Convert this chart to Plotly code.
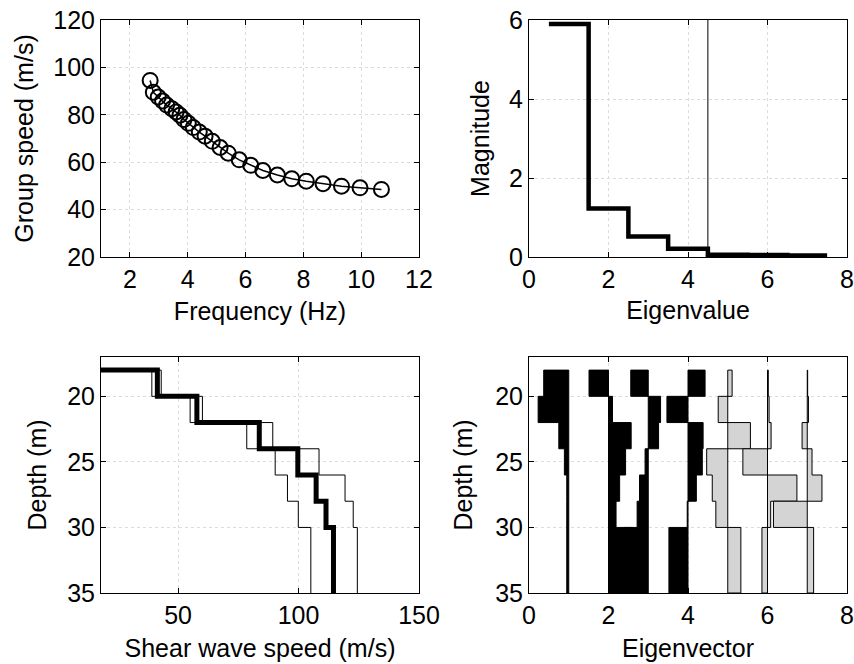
import plotly.graph_objects as go

# ---------------- data ----------------
# Top-left: group speed dispersion curve
freq_hz = [2.70, 2.81, 2.98, 3.13, 3.27, 3.45, 3.60, 3.73, 3.87, 4.02, 4.19, 4.40, 4.60,
           4.85, 5.12, 5.40, 5.78, 6.18, 6.60, 7.10, 7.60, 8.10, 8.68, 9.32, 9.96, 10.70]
group_speed = [94.5, 89.5, 87.5, 85.8, 84.1, 82.6, 81.2, 79.8, 78.0, 76.4, 74.6, 72.7, 71.0,
               68.8, 66.2, 63.8, 61.0, 58.7, 56.5, 54.6, 53.0, 52.0, 50.9, 49.9, 49.2, 48.5]

# Top-right: eigenvalue spectrum
eig_index = [1, 2, 3, 4, 5, 6, 7]
eig_magnitude = [5.9, 1.23, 0.52, 0.21, 0.06, 0.05, 0.04]
eig_cutoff = 4.5

# Bottom: layered model
layer_top = [18, 20, 22, 24, 26, 28, 30]
layer_bottom = [20, 22, 24, 26, 28, 30, 35]
vs_mean = [41.4, 57.8, 83.7, 99.7, 107.3, 111.4, 114.5]
vs_low = [39.1, 55.0, 78.5, 90.3, 95.4, 99.9, 105.1]
vs_high = [43.0, 60.1, 89.3, 108.5, 119.3, 122.7, 124.4]

# Bottom-right: eigenvectors (one value per layer), offset by their index
eigvec_1 = [-0.63, -0.77, -0.25, -0.11, -0.05, -0.05, -0.05]
eigvec_2 = [-0.49, 0.10, 0.57, 0.43, 0.28, 0.19, 0.60]
eigvec_3 = [-0.44, 0.31, 0.26, -0.08, -0.22, -0.28, -0.60]
eigvec_4 = [0.43, -0.53, 0.38, 0.36, 0.21, -0.02, -0.48]
eigvec_5 = [0.11, -0.24, 0.57, -0.53, -0.39, -0.30, 0.33]
eigvec_6 = [0.02, 0.04, 0.09, -0.62, 0.74, 0.08, -0.14]
eigvec_7 = [0.01, 0.03, -0.13, 0.12, 0.37, -0.85, 0.16]
eigvecs = [eigvec_1, eigvec_2, eigvec_3, eigvec_4, eigvec_5, eigvec_6, eigvec_7]
n_black = 4

# ---------------- helpers ----------------
def stair(values, start=0.0):
    xs, ys = [start], [layer_top[0]]
    for v, t, b in zip(values, layer_top, layer_bottom):
        xs += [v, v]
        ys += [t, b]
    return xs, ys


def eig_poly(idx, values):
    xs, ys = [idx], [layer_top[0]]
    for v, t, b in zip(values, layer_top, layer_bottom):
        xs += [idx + v, idx + v]
        ys += [t, b]
    xs += [idx, idx]
    ys += [layer_bottom[-1], layer_top[0]]
    return xs, ys


FONT = "Liberation Sans, Arial, Helvetica, sans-serif"
FS = 25

fig = go.Figure()

# Top-left
fig.add_trace(go.Scatter(
    x=freq_hz, y=group_speed, mode="lines+markers",
    line=dict(color="black", width=1.5),
    marker=dict(symbol="circle-open", size=15, color="black", line=dict(width=2, color="black")),
    xaxis="x", yaxis="y", showlegend=False))

# Top-right
edges = [i - 0.5 for i in eig_index] + [eig_index[-1] + 0.5]
fig.add_trace(go.Scatter(
    x=edges, y=eig_magnitude + [eig_magnitude[-1]], mode="lines", line_shape="hv",
    line=dict(color="black", width=4.5), xaxis="x2", yaxis="y2", showlegend=False))
fig.add_trace(go.Scatter(
    x=[eig_cutoff, eig_cutoff], y=[0, 6], mode="lines",
    line=dict(color="black", width=1), xaxis="x2", yaxis="y2", showlegend=False))

# Bottom-left
for vals, w in [(vs_low, 1), (vs_high, 1), (vs_mean, 5)]:
    xs, ys = stair(vals)
    fig.add_trace(go.Scatter(x=xs, y=ys, mode="lines", line=dict(color="black", width=w),
                             xaxis="x3", yaxis="y3", showlegend=False))

# Bottom-right
for i, vals in enumerate(eigvecs, start=1):
    xs, ys = eig_poly(i, vals)
    fc = "black" if i <= n_black else "#d4d4d4"
    fig.add_trace(go.Scatter(x=xs, y=ys, mode="lines", fill="toself", fillcolor=fc,
                             line=dict(color="black", width=1),
                             xaxis="x4", yaxis="y4", showlegend=False))

W, H = 854, 664
def dx(a, b):
    return [a / W, b / W]
def dy(top, bottom):
    return [(H - bottom) / H, (H - top) / H]

common = dict(showline=True, linecolor="black", linewidth=1, mirror="ticks",
              ticks="inside", ticklen=5, tickcolor="black", automargin=False,
              showgrid=True, gridcolor="#dcdcdc", griddash="dot", gridwidth=1,
              zeroline=False, tickfont=dict(family=FONT, size=FS, color="black"),
              title_font=dict(family=FONT, size=FS, color="black"))

fig.update_layout(
    width=W, height=H, margin=dict(l=0, r=0, t=0, b=0, autoexpand=False),
    paper_bgcolor="white", plot_bgcolor="white",
    font=dict(family=FONT, size=FS, color="black"),
    xaxis=dict(domain=dx(101, 419), anchor="y", range=[1, 12], tickvals=[2, 4, 6, 8, 10, 12],
               title=dict(text="Frequency (Hz)", standoff=10), **common),
    yaxis=dict(domain=dy(20, 257), anchor="x", range=[20, 120], tickvals=[20, 40, 60, 80, 100, 120],
               title=dict(text="Group speed (m/s)", standoff=12), **common),
    xaxis2=dict(domain=dx(529, 847), anchor="y2", range=[0, 8], tickvals=[0, 2, 4, 6, 8],
                title=dict(text="Eigenvalue", standoff=9), **common),
    yaxis2=dict(domain=dy(20, 257), anchor="x2", range=[0, 6], tickvals=[0, 2, 4, 6],
                title=dict(text="Magnitude", standoff=12), **common),
    xaxis3=dict(domain=dx(101, 419), anchor="y3", range=[18, 150], tickvals=[50, 100, 150],
                title=dict(text="Shear wave speed (m/s)", standoff=11), **common),
    yaxis3=dict(domain=dy(357, 593), anchor="x3", range=[35, 17], tickvals=[20, 25, 30, 35],
                title=dict(text="Depth (m)", standoff=13), **common),
    xaxis4=dict(domain=dx(529, 847), anchor="y4", range=[0, 8], tickvals=[0, 2, 4, 6, 8],
                title=dict(text="Eigenvector", standoff=11), **common),
    yaxis4=dict(domain=dy(357, 593), anchor="x4", range=[35, 17], tickvals=[20, 25, 30, 35],
                title=dict(text="Depth (m)", standoff=15), **common),
)

fig.write_html("out.html", config={"displayModeBar": False},
               post_script="document.body.style.margin='0px';")
